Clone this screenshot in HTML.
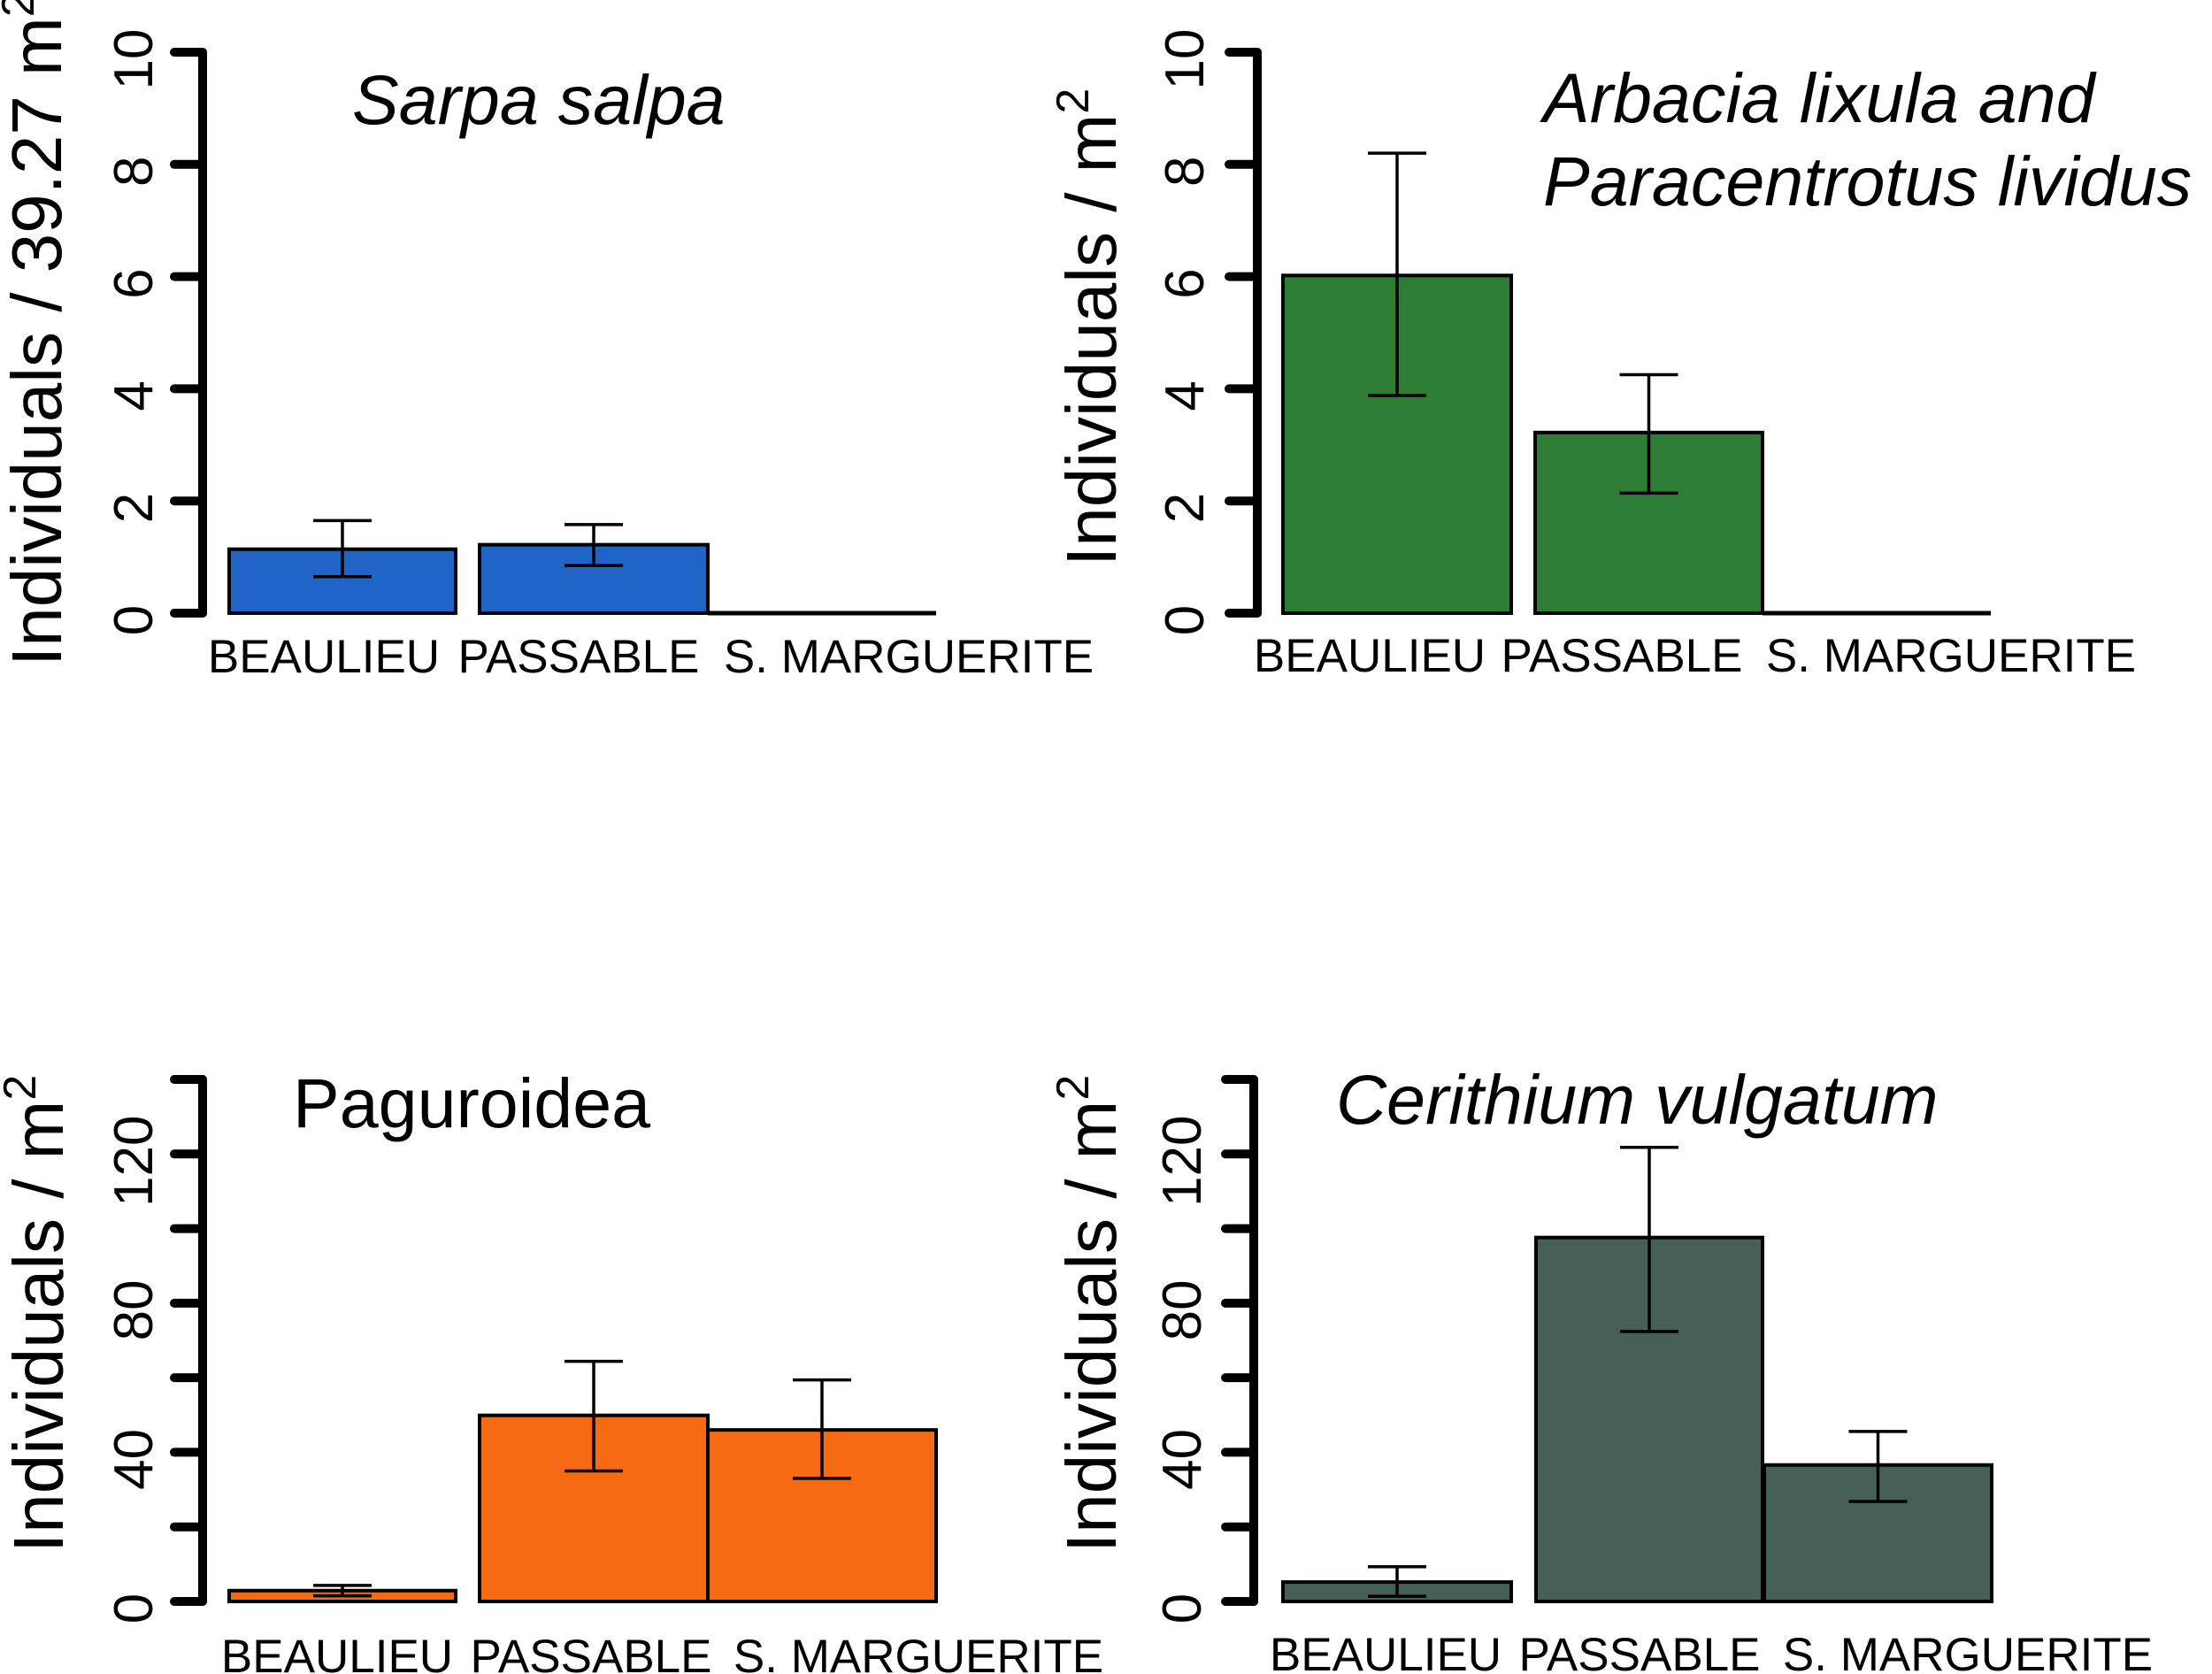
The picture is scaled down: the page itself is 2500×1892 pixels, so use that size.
<!DOCTYPE html>
<html><head><meta charset="utf-8"><style>
html,body{margin:0;padding:0;background:#fff;}
svg{display:block;font-family:"Liberation Sans",Arial,sans-serif;}
</style></head><body>
<svg id="chart" xmlns="http://www.w3.org/2000/svg" width="2500" height="1892" viewBox="0 0 2500 1892"></svg>
<script>
const categories = ["BEAULIEU","PASSABLE","S. MARGUERITE"];
const sarpaValues = [1.14, 1.22, 0];
const sarpaLow = [0.65, 0.85, null];
const sarpaHigh = [1.65, 1.58, null];
const urchinValues = [6.02, 3.22, 0];
const urchinLow = [3.88, 2.14, null];
const urchinHigh = [8.2, 4.25, null];
const paguValues = [2.9, 49.9, 46];
const paguLow = [1.5, 35, 33];
const paguHigh = [4.3, 64.4, 59.4];
const cerithValues = [5.2, 97.6, 36.6];
const cerithLow = [1.4, 72.4, 26.8];
const cerithHigh = [9.3, 121.8, 45.6];
const topTicks = [0,2,4,6,8,10];
const bottomTicks = [0,20,40,60,80,100,120,140];
const bottomTickLabels = ["0","","40","","80","","120",""];

const NS="http://www.w3.org/2000/svg";
const svg=document.getElementById('chart');
function mk(tag,attrs,parent){const e=document.createElementNS(NS,tag);for(const k in attrs)e.setAttribute(k,attrs[k]);(parent||svg).appendChild(e);return e;}

const panels=[
 {name:'sarpa',ax:229,y0:693,yTop:59,max:10,ticks:topTicks,labels:topTicks.map(String),vals:sarpaValues,lo:sarpaLow,hi:sarpaHigh,color:'#1f64c6',
  bars:[[259,515],[542,800],[800,1058]],lab:[366,654,1027],labY:760,tickX:150,ytX:40,ytBottom:753,ytext:'Individuals / 39.27 m',
  title:[['Sarpa salpa',398,140]],italic:true},
 {name:'urchin',ax:1421,y0:693,yTop:59,max:10,ticks:topTicks,labels:topTicks.map(String),vals:urchinValues,lo:urchinLow,hi:urchinHigh,color:'#2e7d34',
  bars:[[1450,1708],[1735,1992],[1992,2250]],lab:[1548,1833,2205],labY:759,tickX:1338,ytX:1232,ytBottom:640,ytext:'Individuals / m',
  title:[['Arbacia lixula and',1744,138],['Paracentrotus lividus',1744,232]],italic:true},
 {name:'paguroidea',ax:229,y0:1810,yTop:1220,max:140,ticks:bottomTicks,labels:bottomTickLabels,vals:paguValues,lo:paguLow,hi:paguHigh,color:'#f56a12',
  bars:[[259,515],[542,800],[800,1058]],lab:[381,668,1038],labY:1890,tickX:150,ytX:42,ytBottom:1755,ytext:'Individuals / m',
  title:[['Paguroidea',331,1274]],italic:false},
 {name:'cerithium',ax:1417,y0:1810,yTop:1220,max:140,ticks:bottomTicks,labels:bottomTickLabels,vals:cerithValues,lo:cerithLow,hi:cerithHigh,color:'#465f57',
  bars:[[1450,1708],[1736,1992],[1994,2251]],lab:[1566,1853,2224],labY:1888,tickX:1335,ytX:1232,ytBottom:1755,ytext:'Individuals / m',
  title:[['Cerithium vulgatum',1510,1270]],italic:true}
];

panels.forEach(p=>{
  const g=mk('g',{});
  
  
  const y=v=>p.y0-(v/p.max)*(p.y0-p.yTop);
  const axis=mk('line',{x1:p.ax,x2:p.ax,y1:y(p.ticks[p.ticks.length-1]),y2:y(0),stroke:'#000','stroke-width':10,'stroke-linecap':'round'},g);
  
  
  p.ticks.forEach((t,i)=>{
    const tk=mk('line',{x1:p.ax-32,x2:p.ax,y1:y(t),y2:y(t),stroke:'#000','stroke-width':10,'stroke-linecap':'round'},g);
    
    
    if(p.labels[i]){
      const tl=mk('text',{x:0,y:0,'font-size':62,'text-anchor':'middle',transform:`translate(${p.tickX+22},${y(t)+8}) rotate(-90)`},g);
      tl.textContent=p.labels[i];
      
      
    }
  });
  const yt=mk('text',{x:0,y:0,'font-size':80,transform:`translate(${p.ytX+29},${p.ytBottom}) rotate(-90)`},g);
  
  
  yt.appendChild(document.createTextNode(p.ytext));
  const sup=mk('tspan',{'font-size':52,dy:-31},yt); sup.textContent='2';
  p.vals.forEach((v,i)=>{
    const [x1,x2]=p.bars[i];
    if(v>0){
      const r=mk('rect',{x:x1,y:y(v),width:x2-x1,height:y(0)-y(v),fill:p.color,stroke:'#000','stroke-width':4},g);
      
      
    } else {
      const r=mk('line',{x1:x1,x2:x2,y1:y(0),y2:y(0),stroke:'#000','stroke-width':5},g);
      
      
    }
    if(p.lo[i]!==null){
      const cx=(x1+x2)/2;
      const eg=mk('g',{stroke:'#000','stroke-width':3.5},g);
      
      
      mk('line',{x1:cx,x2:cx,y1:y(p.lo[i]),y2:y(p.hi[i])},eg);
      mk('line',{x1:cx-33,x2:cx+33,y1:y(p.lo[i]),y2:y(p.lo[i])},eg);
      mk('line',{x1:cx-33,x2:cx+33,y1:y(p.hi[i]),y2:y(p.hi[i])},eg);
    }
    const lt=mk('text',{x:p.lab[i],y:p.labY,'font-size':53,'text-anchor':'middle'},g);
    lt.textContent=categories[i];
    
    
  });
  p.title.forEach(t=>{
    const tt=mk('text',{x:t[1],y:t[2],'font-size':79,'font-style':p.italic?'italic':'normal'},g);
    tt.textContent=t[0];
    
    
  });
});
</script>
</body></html>
